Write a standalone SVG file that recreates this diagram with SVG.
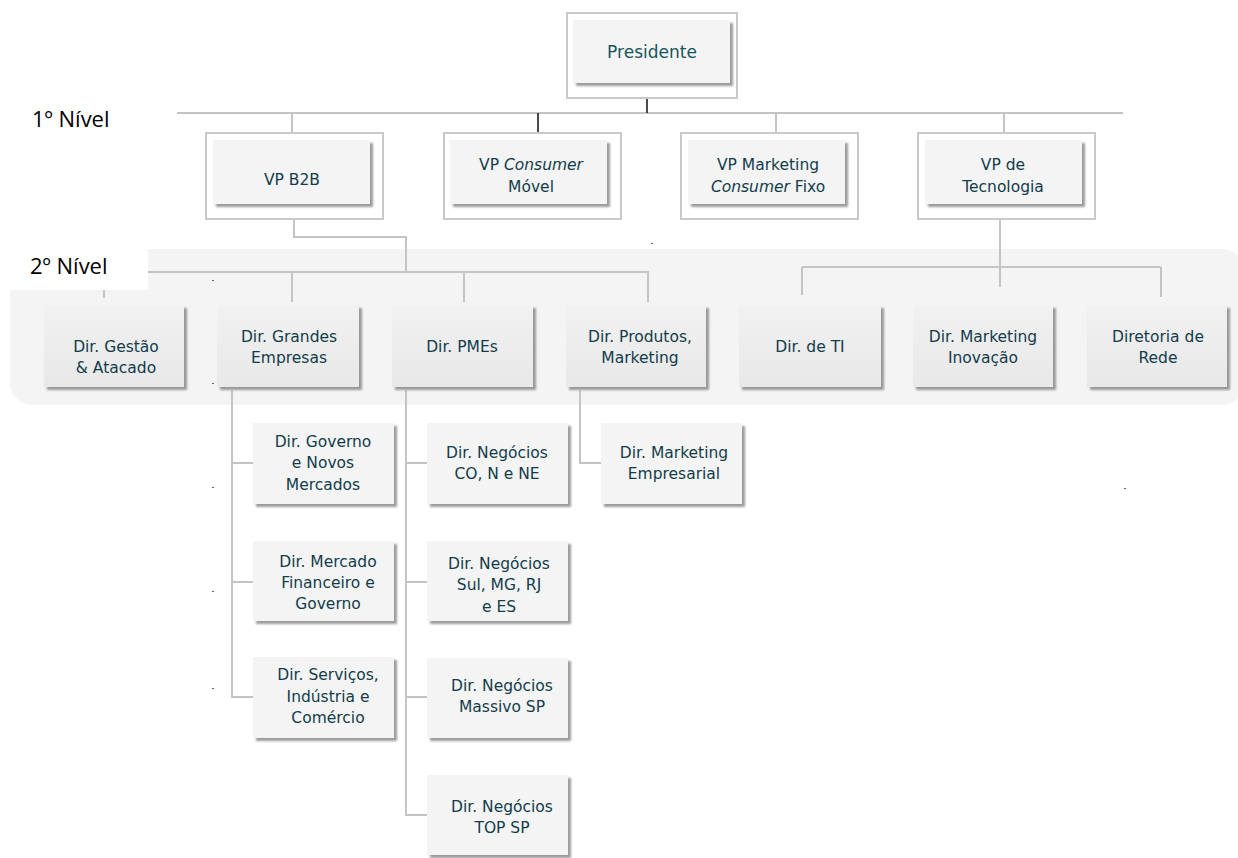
<svg xmlns="http://www.w3.org/2000/svg" width="1238" height="858" viewBox="0 0 1238 858">
<defs>
<filter id="sh" x="-10%" y="-10%" width="125%" height="130%">
<feDropShadow dx="3" dy="3" stdDeviation="1.3" flood-color="#7a7a7a" flood-opacity="0.75"/>
</filter>
<linearGradient id="g2" x1="0" y1="0" x2="0" y2="1">
<stop offset="0" stop-color="#f1f1f1"/>
<stop offset="1" stop-color="#e8e8e8"/>
</linearGradient>
<style>
.frame{fill:#fff;stroke:#c9c9c9;stroke-width:2}
.box{fill:#f4f4f4;filter:url(#sh)}
.box2{fill:url(#g2);filter:url(#sh)}
.t{font-family:"DejaVu Sans",Verdana,sans-serif;font-size:15.5px;fill:#123c4b;text-anchor:middle}
.tp{font-family:"DejaVu Sans",Verdana,sans-serif;font-size:17px;fill:#17555e;text-anchor:middle}
.lvl{font-family:"Open Sans","Liberation Sans",sans-serif;font-size:22px;fill:#000}
.c{stroke:#c4c4c4;stroke-width:2;fill:none}
.k{stroke:#111;stroke-width:1.5;fill:none}
.m{fill:#666}
</style>
</defs>
<rect width="1238" height="858" fill="#fff"/>
<rect x="10" y="249" width="1234" height="156" rx="22" fill="#f4f4f4"/>
<rect x="0" y="249" width="148" height="41" fill="#fff"/>
<text class="lvl" x="32" y="127">1º Nível</text>
<text class="lvl" x="30" y="274">2º Nível</text>

<g id="connectors">
<path class="c" d="M177 113H1123"/>
<path class="c" d="M292 113V140M776 113V140M1004 113V140"/>
<path class="k" d="M647 85V113M538 113V140"/>
<path class="c" d="M294 206V237H406V272M148 272H649"/>
<path class="c" d="M104 290V298M292 272V302M464 272V302M648 272V302"/>
<path class="c" d="M1000 206V287M802 267H1161M802 267V295M1161 267V297"/>
<path class="c" d="M232 390V697H253M232 463H253M232 582H253"/>
<path class="c" d="M406 390V815H427M406 463H427M406 582H427M406 697H427"/>
<path class="c" d="M580 390V463H601"/>
</g>

<g id="marks">
<rect class="m" x="212" y="175" width="2" height="1"/>
<rect class="m" x="212" y="280" width="2" height="1"/>
<rect class="m" x="212" y="383" width="2" height="1"/>
<rect class="m" x="212" y="487" width="2" height="1"/>
<rect class="m" x="212" y="591" width="2" height="1"/>
<rect class="m" x="212" y="688" width="2" height="1"/>
<rect class="m" x="651" y="243" width="2" height="1"/>
<rect class="m" x="1124" y="488" width="2" height="1"/>
</g>

<g id="presidente">
<rect class="frame" x="567" y="13" width="170" height="85"/>
<rect class="box" x="573" y="20" width="157" height="63"/>
<text class="tp" x="652" y="58">Presidente</text>
</g>

<g id="vp-b2b">
<rect class="frame" x="206" y="133" width="177" height="86"/>
<rect class="box" x="213" y="140" width="157" height="64"/>
<text class="t" x="292" y="185">VP B2B</text>
</g>
<g id="vp-consumer-movel">
<rect class="frame" x="444" y="133" width="177" height="86"/>
<rect class="box" x="450" y="140" width="157" height="64"/>
<text class="t" x="531" y="170">VP <tspan font-style="italic">Consumer</tspan></text>
<text class="t" x="531" y="192">Móvel</text>
</g>
<g id="vp-marketing">
<rect class="frame" x="681" y="133" width="177" height="86"/>
<rect class="box" x="688" y="140" width="157" height="64"/>
<text class="t" x="768" y="170">VP Marketing</text>
<text class="t" x="768" y="192"><tspan font-style="italic">Consumer</tspan> Fixo</text>
</g>
<g id="vp-tecnologia">
<rect class="frame" x="918" y="133" width="177" height="86"/>
<rect class="box" x="925" y="140" width="157" height="64"/>
<text class="t" x="1003" y="170">VP de</text>
<text class="t" x="1003" y="192">Tecnologia</text>
</g>

<g id="dir-gestao">
<rect class="box2" x="44" y="305" width="140" height="82"/>
<text class="t" x="116" y="352">Dir. Gestão</text>
<text class="t" x="116" y="373">&amp; Atacado</text>
</g>
<g id="dir-grandes">
<rect class="box2" x="217" y="305" width="142" height="82"/>
<text class="t" x="289" y="342">Dir. Grandes</text>
<text class="t" x="289" y="363">Empresas</text>
</g>
<g id="dir-pmes">
<rect class="box2" x="392" y="305" width="141" height="82"/>
<text class="t" x="462" y="352">Dir. PMEs</text>
</g>
<g id="dir-produtos">
<rect class="box2" x="566" y="305" width="140" height="82"/>
<text class="t" x="640" y="342">Dir. Produtos,</text>
<text class="t" x="640" y="363">Marketing</text>
</g>
<g id="dir-ti">
<rect class="box2" x="739" y="305" width="142" height="82"/>
<text class="t" x="810" y="352">Dir. de TI</text>
</g>
<g id="dir-mkt-inovacao">
<rect class="box2" x="913" y="305" width="140" height="82"/>
<text class="t" x="983" y="342">Dir. Marketing</text>
<text class="t" x="983" y="363">Inovação</text>
</g>
<g id="dir-rede">
<rect class="box2" x="1087" y="305" width="140" height="82"/>
<text class="t" x="1158" y="342">Diretoria de</text>
<text class="t" x="1158" y="363">Rede</text>
</g>

<g id="dir-governo">
<rect class="box" x="253" y="423" width="141" height="81"/>
<text class="t" x="323" y="447">Dir. Governo</text>
<text class="t" x="323" y="468">e Novos</text>
<text class="t" x="323" y="490">Mercados</text>
</g>
<g id="dir-mercado">
<rect class="box" x="253" y="541" width="141" height="80"/>
<text class="t" x="328" y="567">Dir. Mercado</text>
<text class="t" x="328" y="588">Financeiro e</text>
<text class="t" x="328" y="609">Governo</text>
</g>
<g id="dir-servicos">
<rect class="box" x="253" y="657" width="141" height="81"/>
<text class="t" x="328" y="680">Dir. Serviços,</text>
<text class="t" x="328" y="702">Indústria e</text>
<text class="t" x="328" y="723">Comércio</text>
</g>
<g id="dir-negocios-co">
<rect class="box" x="427" y="423" width="141" height="81"/>
<text class="t" x="497" y="458">Dir. Negócios</text>
<text class="t" x="497" y="479">CO, N e NE</text>
</g>
<g id="dir-negocios-sul">
<rect class="box" x="427" y="541" width="141" height="80"/>
<text class="t" x="499" y="569">Dir. Negócios</text>
<text class="t" x="499" y="590">Sul, MG, RJ</text>
<text class="t" x="499" y="612">e ES</text>
</g>
<g id="dir-negocios-massivo">
<rect class="box" x="427" y="658" width="141" height="80"/>
<text class="t" x="502" y="691">Dir. Negócios</text>
<text class="t" x="502" y="712">Massivo SP</text>
</g>
<g id="dir-negocios-top">
<rect class="box" x="427" y="775" width="141" height="80"/>
<text class="t" x="502" y="812">Dir. Negócios</text>
<text class="t" x="502" y="833">TOP SP</text>
</g>
<g id="dir-mkt-empresarial">
<rect class="box" x="601" y="423" width="141" height="81"/>
<text class="t" x="674" y="458">Dir. Marketing</text>
<text class="t" x="674" y="479">Empresarial</text>
</g>
</svg>
